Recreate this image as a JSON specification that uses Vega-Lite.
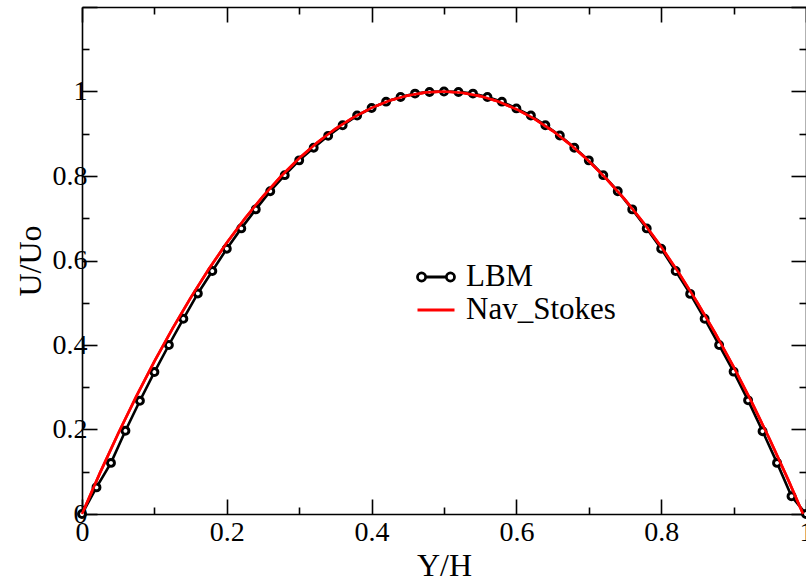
{
  "$schema": "https://vega.github.io/schema/vega-lite/v6.json",
  "autosize": {"type": "none"},
  "padding": {"left": 82, "top": 7, "right": 0, "bottom": 63},
  "width": 724,
  "height": 507,
  "config": {
    "font": "Liberation Serif",
    "view": {"stroke": null},
    "axis": {
      "domainColor": "black", "domainWidth": 1.6,
      "tickColor": "black", "tickWidth": 1.6,
      "labelColor": "black", "labelFont": "Liberation Serif", "labelFontSize": 28,
      "titleFont": "Liberation Serif", "titleFontSize": 32, "titleFontWeight": "normal", "titleColor": "black",
      "grid": false
    }
  },
  "datasets": {
    "d": [
      {"series": "LBM", "x": 0.00, "u": 0},
      {"series": "LBM", "x": 0.02, "u": 0.063},
      {"series": "LBM", "x": 0.04, "u": 0.121},
      {"series": "LBM", "x": 0.06, "u": 0.197},
      {"series": "LBM", "x": 0.08, "u": 0.268},
      {"series": "LBM", "x": 0.10, "u": 0.336},
      {"series": "LBM", "x": 0.12, "u": 0.400},
      {"series": "LBM", "x": 0.14, "u": 0.462},
      {"series": "LBM", "x": 0.16, "u": 0.522},
      {"series": "LBM", "x": 0.18, "u": 0.575},
      {"series": "LBM", "x": 0.20, "u": 0.628},
      {"series": "LBM", "x": 0.22, "u": 0.676},
      {"series": "LBM", "x": 0.24, "u": 0.721},
      {"series": "LBM", "x": 0.26, "u": 0.764},
      {"series": "LBM", "x": 0.28, "u": 0.802},
      {"series": "LBM", "x": 0.30, "u": 0.837},
      {"series": "LBM", "x": 0.32, "u": 0.867},
      {"series": "LBM", "x": 0.34, "u": 0.895},
      {"series": "LBM", "x": 0.36, "u": 0.920},
      {"series": "LBM", "x": 0.38, "u": 0.943},
      {"series": "LBM", "x": 0.40, "u": 0.961},
      {"series": "LBM", "x": 0.42, "u": 0.976},
      {"series": "LBM", "x": 0.44, "u": 0.987},
      {"series": "LBM", "x": 0.46, "u": 0.995},
      {"series": "LBM", "x": 0.48, "u": 0.999},
      {"series": "LBM", "x": 0.50, "u": 1.000},
      {"series": "LBM", "x": 0.52, "u": 0.999},
      {"series": "LBM", "x": 0.54, "u": 0.995},
      {"series": "LBM", "x": 0.56, "u": 0.987},
      {"series": "LBM", "x": 0.58, "u": 0.976},
      {"series": "LBM", "x": 0.60, "u": 0.960},
      {"series": "LBM", "x": 0.62, "u": 0.943},
      {"series": "LBM", "x": 0.64, "u": 0.920},
      {"series": "LBM", "x": 0.66, "u": 0.896},
      {"series": "LBM", "x": 0.68, "u": 0.867},
      {"series": "LBM", "x": 0.70, "u": 0.837},
      {"series": "LBM", "x": 0.72, "u": 0.802},
      {"series": "LBM", "x": 0.74, "u": 0.764},
      {"series": "LBM", "x": 0.76, "u": 0.721},
      {"series": "LBM", "x": 0.78, "u": 0.676},
      {"series": "LBM", "x": 0.80, "u": 0.628},
      {"series": "LBM", "x": 0.82, "u": 0.575},
      {"series": "LBM", "x": 0.84, "u": 0.521},
      {"series": "LBM", "x": 0.86, "u": 0.462},
      {"series": "LBM", "x": 0.88, "u": 0.400},
      {"series": "LBM", "x": 0.90, "u": 0.337},
      {"series": "LBM", "x": 0.92, "u": 0.269},
      {"series": "LBM", "x": 0.94, "u": 0.196},
      {"series": "LBM", "x": 0.96, "u": 0.121},
      {"series": "LBM", "x": 0.98, "u": 0.042},
      {"series": "LBM", "x": 1.00, "u": 0},
      {"series": "Nav_Stokes", "x": 0.000, "u": 0},
      {"series": "Nav_Stokes", "x": 0.025, "u": 0.0979},
      {"series": "Nav_Stokes", "x": 0.050, "u": 0.1907},
      {"series": "Nav_Stokes", "x": 0.075, "u": 0.2785},
      {"series": "Nav_Stokes", "x": 0.100, "u": 0.3613},
      {"series": "Nav_Stokes", "x": 0.125, "u": 0.4390},
      {"series": "Nav_Stokes", "x": 0.150, "u": 0.5117},
      {"series": "Nav_Stokes", "x": 0.175, "u": 0.5793},
      {"series": "Nav_Stokes", "x": 0.200, "u": 0.6419},
      {"series": "Nav_Stokes", "x": 0.225, "u": 0.6995},
      {"series": "Nav_Stokes", "x": 0.250, "u": 0.7520},
      {"series": "Nav_Stokes", "x": 0.275, "u": 0.7995},
      {"series": "Nav_Stokes", "x": 0.300, "u": 0.8419},
      {"series": "Nav_Stokes", "x": 0.325, "u": 0.8793},
      {"series": "Nav_Stokes", "x": 0.350, "u": 0.9117},
      {"series": "Nav_Stokes", "x": 0.375, "u": 0.9390},
      {"series": "Nav_Stokes", "x": 0.400, "u": 0.9613},
      {"series": "Nav_Stokes", "x": 0.425, "u": 0.9785},
      {"series": "Nav_Stokes", "x": 0.450, "u": 0.9907},
      {"series": "Nav_Stokes", "x": 0.475, "u": 0.9979},
      {"series": "Nav_Stokes", "x": 0.500, "u": 1.0000},
      {"series": "Nav_Stokes", "x": 0.525, "u": 0.9971},
      {"series": "Nav_Stokes", "x": 0.550, "u": 0.9891},
      {"series": "Nav_Stokes", "x": 0.575, "u": 0.9761},
      {"series": "Nav_Stokes", "x": 0.600, "u": 0.9581},
      {"series": "Nav_Stokes", "x": 0.625, "u": 0.9350},
      {"series": "Nav_Stokes", "x": 0.650, "u": 0.9069},
      {"series": "Nav_Stokes", "x": 0.675, "u": 0.8737},
      {"series": "Nav_Stokes", "x": 0.700, "u": 0.8355},
      {"series": "Nav_Stokes", "x": 0.725, "u": 0.7922},
      {"series": "Nav_Stokes", "x": 0.750, "u": 0.7440},
      {"series": "Nav_Stokes", "x": 0.775, "u": 0.6906},
      {"series": "Nav_Stokes", "x": 0.800, "u": 0.6323},
      {"series": "Nav_Stokes", "x": 0.825, "u": 0.5689},
      {"series": "Nav_Stokes", "x": 0.850, "u": 0.5004},
      {"series": "Nav_Stokes", "x": 0.875, "u": 0.4269},
      {"series": "Nav_Stokes", "x": 0.900, "u": 0.3484},
      {"series": "Nav_Stokes", "x": 0.925, "u": 0.2648},
      {"series": "Nav_Stokes", "x": 0.950, "u": 0.1762},
      {"series": "Nav_Stokes", "x": 0.975, "u": 0.0826},
      {"series": "Nav_Stokes", "x": 0.996, "u": 0}
    ]
  },
  "data": {"name": "d"},
  "layer": [
    {
      "mark": {"type": "line", "strokeWidth": 2.6},
      "encoding": {
        "x": {
          "field": "x", "type": "quantitative",
          "scale": {"domain": [0, 1], "nice": false, "zero": false},
          "axis": {
            "orient": "bottom", "title": "Y/H",
            "values": [0, 0.1, 0.2, 0.3, 0.4, 0.5, 0.6, 0.7, 0.8, 0.9, 1.0],
            "format": "~g",
            "labelExpr": "round(datum.value*10) % 2 === 0 ? datum.label : ''",
            "tickSize": {"condition": {"test": "round(datum.value*10) % 2 === 0", "value": -15}, "value": -7},
            "labelPadding": 19, "labelFlush": false, "labelOverlap": false,
            "titlePadding": -4
          }
        },
        "y": {
          "field": "u", "type": "quantitative",
          "scale": {"domain": [0, 1.2], "nice": false, "zero": false},
          "axis": {
            "orient": "left", "title": "U/Uo",
            "values": [0, 0.1, 0.2, 0.3, 0.4, 0.5, 0.6, 0.7, 0.8, 0.9, 1.0, 1.1, 1.2],
            "format": "~g",
            "labelExpr": "round(datum.value*10) % 2 === 0 && datum.value < 1.1 ? datum.label : ''",
            "tickSize": {"condition": {"test": "round(datum.value*10) % 2 === 0", "value": -15}, "value": -7},
            "labelPadding": 10, "labelFlush": false, "labelOverlap": false,
            "titlePadding": 5
          }
        },
        "color": {
          "field": "series", "type": "nominal",
          "scale": {"domain": ["LBM", "Nav_Stokes"], "range": ["black", "red"]},
          "legend": {
            "orient": "none", "legendX": 334, "legendY": 254,
            "title": null, "padding": 0,
            "labelFont": "Liberation Serif", "labelFontSize": 31, "labelColor": "black",
            "labelOffset": 10,
            "symbolType": "stroke", "symbolSize": 1369, "symbolStrokeWidth": 2.8,
            "clipHeight": 32, "rowPadding": 1,
            "encode": {
              "symbols": {
                "update": {
                  "shape": {"signal": "datum.value === 'LBM' ? 'M -0.56 0 L 0.56 0 M -1 0 A 0.22 0.22 0 1 0 -0.56 0 A 0.22 0.22 0 1 0 -1 0 M 0.56 0 A 0.22 0.22 0 1 0 1 0 A 0.22 0.22 0 1 0 0.56 0' : 'stroke'"}
                }
              }
            }
          }
        }
      }
    },
    {
      "transform": [{"filter": "datum.series === 'LBM'"}],
      "mark": {"type": "point", "shape": "circle", "filled": true, "fill": "white", "stroke": "black", "strokeWidth": 3, "size": 48, "opacity": 1},
      "encoding": {
        "x": {"field": "x", "type": "quantitative", "axis": null},
        "y": {"field": "u", "type": "quantitative", "axis": null}
      }
    },
    {
      "transform": [{"filter": "datum.series === 'Nav_Stokes'"}],
      "mark": {"type": "line", "color": "red", "strokeWidth": 2.6},
      "encoding": {
        "x": {
          "field": "x", "type": "quantitative",
          "axis": {
            "orient": "top", "title": null, "labels": false,
            "values": [0, 0.1, 0.2, 0.3, 0.4, 0.5, 0.6, 0.7, 0.8, 0.9, 1.0],
            "tickSize": {"condition": {"test": "round(datum.value*10) % 2 === 0", "value": -15}, "value": -7}
          }
        },
        "y": {
          "field": "u", "type": "quantitative",
          "axis": {
            "orient": "right", "title": null, "labels": false,
            "values": [0, 0.1, 0.2, 0.3, 0.4, 0.5, 0.6, 0.7, 0.8, 0.9, 1.0, 1.1, 1.2],
            "tickSize": {"condition": {"test": "round(datum.value*10) % 2 === 0", "value": -15}, "value": -7}
          }
        }
      }
    }
  ],
  "resolve": {"axis": {"x": "independent", "y": "independent"}}
}
